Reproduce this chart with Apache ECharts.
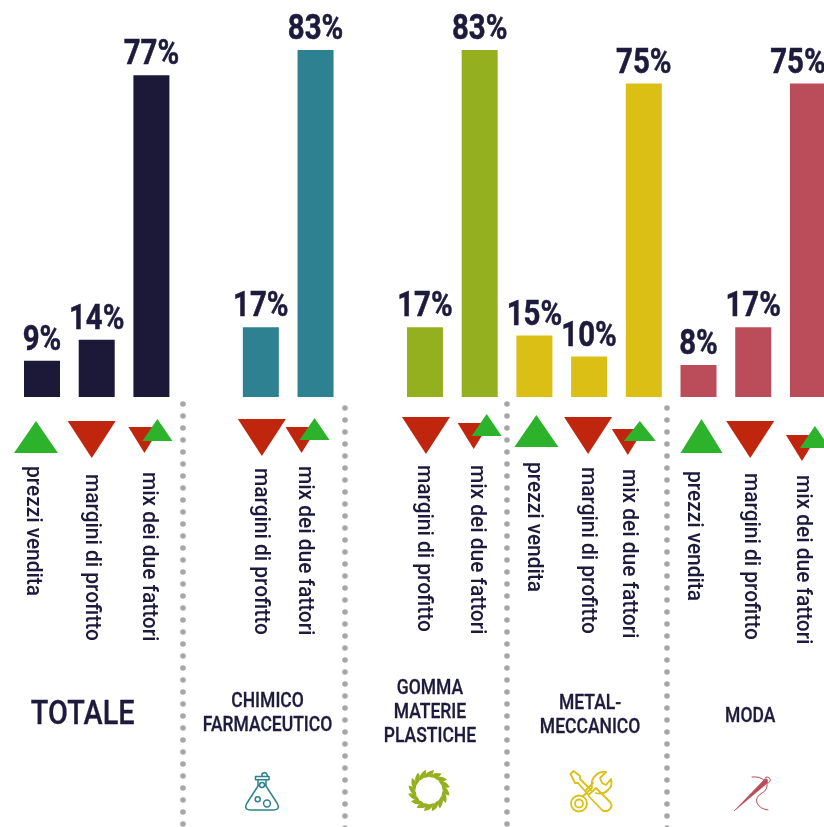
<!DOCTYPE html>
<html><head><meta charset="utf-8">
<style>html,body{margin:0;padding:0;background:#fff}#c{width:824px;height:827px}</style>
<script src="https://cdn.jsdelivr.net/npm/echarts@6/dist/echarts.min.js"></script>
</head><body><div id="c"></div>
<script>
// ---- data ----
const categories = [
  'prezzi vendita','margini di profitto','mix dei due fattori',
  'prezzi vendita','margini di profitto','mix dei due fattori',
  'prezzi vendita','margini di profitto','mix dei due fattori',
  'prezzi vendita','margini di profitto','mix dei due fattori',
  'prezzi vendita','margini di profitto','mix dei due fattori'];
const totale  = [9, 14, 77];
const chimico = [null, 17, 83];
const gomma   = [null, 17, 83];
const metal   = [15, 10, 75];
const moda    = [8, 17, 75];
const sectorNames = ['TOTALE','CHIMICO\nFARMACEUTICO','GOMMA\nMATERIE\nPLASTICHE','METAL-\nMECCANICO','MODA'];
const sectorColors = ['#1b1838','#2e8190','#95b01f','#dbbf15','#bb4c5a'];
const values = [].concat(totale, chimico, gomma, metal, moda);

// ---- layout of the annotations under the bars (px below the baseline / px from slot centre) ----
const INK = '#1e1a3c', RED = '#c0260d', GREEN = '#2cb22b';
const bigUp = [44,32], bigDown = [48,37], smallDown = [32,26], smallUp = [30,22];
const upMarks = [
  {i:0,y:40,dx:-6,s:bigUp},{i:9,y:34,dx:2,s:bigUp},{i:12,y:39,dx:3,s:[42,34]},
  {i:2,y:33,dx:6,s:smallUp},{i:5,y:32,dx:-1,s:smallUp},{i:8,y:28,dx:7,s:smallUp},
  {i:11,y:34,dx:-4,s:[32,20]},{i:14,y:40,dx:7,s:smallUp}];
const downMarks = [
  {i:1,y:42.5,dx:-5,s:bigDown},{i:4,y:40.5,dx:1,s:bigDown},{i:7,y:38.5,dx:1,s:bigDown},
  {i:10,y:38.5,dx:-1,s:bigDown},{i:13,y:42.5,dx:-3,s:bigDown},
  {i:2,y:43,dx:-7,s:smallDown},{i:5,y:43,dx:-14,s:smallDown},{i:8,y:39,dx:-6,s:smallDown},
  {i:11,y:45,dx:-16,s:smallDown},{i:14,y:51,dx:-6,s:smallDown}];
const axisLabels = [
  {i:0,y:69,dx:-9},{i:1,y:77,dx:-5},{i:2,y:75,dx:-3},
  {i:4,y:71,dx:0},{i:5,y:69,dx:-11},
  {i:7,y:68,dx:-1},{i:8,y:68,dx:-3},
  {i:9,y:65,dx:-1},{i:10,y:70,dx:-2},{i:11,y:72,dx:-15},
  {i:12,y:74,dx:-5},{i:13,y:76,dx:-3},{i:14,y:78,dx:-5}];
const titles = [
  {i:1,y:319,dx:-14,size:33,sx:.875},{i:5,y:317,dx:-48,size:20,sx:.875},{i:7,y:316,dx:5,size:20,sx:.875},
  {i:10,y:319,dx:1,size:20,sx:.875},{i:13,y:320,dx:-3,size:20,sx:.875}];
const dotLines = [[183,404],[345,408],[507,404],[667,408]];
const lastLabelShift = -10; // the last value label is pulled back inside the page

const sectorOf = i => Math.floor(i/3);
const FONT = 'Roboto, sans-serif';

function marks(list, rot, color, name){
  return {
    name, type:'scatter', xAxisIndex:1, yAxisIndex:1, silent:true, z:name==='up'?4:3,
    symbol:'triangle',
    data:list.map(m=>({value:[m.i,m.y],symbolSize:m.s,symbolOffset:[m.dx,0]})),
    symbolRotate:rot, itemStyle:{color,opacity:1}
  };
}

// decorative icons, drawn in page pixels
const stroke = (c,w)=>({stroke:c,lineWidth:w,fill:null,lineJoin:'round',lineCap:'round'});
const leafs = [];
for(let k=0;k<16;k++){
  leafs.push({type:'path',x:429,y:790.5,rotation:k/16*Math.PI*2,
    shape:{pathData:'M-5.5,-12.5 Q-3,-19.5 5,-20.5 Q4.5,-13.5 -5.5,-12.5 Z'},style:{fill:'#95b01f'}});
}
const icons = [
  {type:'path',shape:{pathData:
    'M258,780 L258,786 L247,803 Q243,810 251,810 L273,810 Q281,810 277,803 L266,786 L266,780 M255.5,776.5 L269,776.5 L269,779.8 L255.5,779.8 Z M262,776 A2.6,2.6 0 1 1 267,776 M259.5,785 a2.5,2.5 0 1 0 5,0 a2.5,2.5 0 1 0 -5,0 M255.2,799.3 a2.5,2.5 0 1 0 5,0 a2.5,2.5 0 1 0 -5,0 M263.6,803.5 a3.4,3.4 0 1 0 6.8,0 a3.4,3.4 0 1 0 -6.8,0'},
    style:stroke('#2e8190',1.5)},
  ...leafs,
  {type:'path',shape:{pathData:
    'M570.5,774 L573.5,771 L580,776 L580,779 L591,790 M588.5,795 L578,783 L575,783 L570.5,774 M586,790 L593,783 M588.5,795 L596,788 L610,802 Q613,806 610,809 Q606,813 602,810 L588.5,796 M571,803.5 a8,8 0 1 0 16,0 a8,8 0 1 0 -16,0 M575,803.5 a4,4 0 1 0 8,0 a4,4 0 1 0 -8,0 M583,796 L592,788 Q590,780 596,775 Q600,771 606,772 L600,778 L602,783 L606,785 L611,779 Q613,786 608,790 Q603,795 596,793'},
    style:stroke('#dbbf15',1.8)},
  {type:'path',shape:{pathData:'M734,811 L762,782 Q765,778 767,779 Q769,782 765,785 Z'},style:{fill:'#bb4c5a',stroke:'#bb4c5a',lineWidth:.6}},
  {type:'path',shape:{pathData:
    'M752,777 Q760,776 765,781 M765,778 a3,3 0 1 1 2,5 M767,783 Q768,790 762,793 Q755,797 757,803 Q760,809 768,810'},
    style:stroke('#bb4c5a',1)}
];
const graphic = dotLines.map(([x,y])=>({type:'line',silent:true,z:1,
    shape:{x1:x,y1:y,x2:x,y2:835},
    style:{stroke:'#a6a6a6',lineWidth:5.6,lineCap:'round',lineDash:[0,12]}}));

const option = {
  animation:false, backgroundColor:'#fff',
  grid:[
    {left:14.64,top:0,width:820.65,height:397,outerBoundsMode:'none'},
    {left:14.64,top:397,width:820.65,height:430,outerBoundsMode:'none'}
  ],
  xAxis:[
    {type:'category',gridIndex:0,data:categories.map((c,i)=>i),show:false},
    {type:'category',gridIndex:1,data:categories.map((c,i)=>i),show:false}
  ],
  yAxis:[
    {type:'value',gridIndex:0,min:0.38,max:94.9,show:false},
    {type:'value',gridIndex:1,min:0,max:430,inverse:true,show:false}
  ],
  graphic,
  series:[
    {type:'bar',xAxisIndex:0,yAxisIndex:0,barWidth:36,silent:true,
     data:values.map((v,i)=>({value:v,itemStyle:{color:sectorColors[sectorOf(i)]}}))},
    // value labels (condensed by scaling, since no condensed face is installed)
    {type:'custom',xAxisIndex:0,yAxisIndex:0,silent:true,z:6,clip:false,
     encode:{x:0,y:1},
     data:values.map((v,i)=>[i,v]).filter(d=>d[1]!=null),
     renderItem:(p,api)=>{
       const pt = api.coord([api.value(0),api.value(1)]);
       const dx = api.value(0)===categories.length-1 ? lastLabelShift : 0;
       return {type:'text',x:pt[0]+dx,y:pt[1]-2,scaleX:.84,
         style:{text:api.value(1)+'%',fill:INK,stroke:INK,lineWidth:.5,textAlign:'center',textVerticalAlign:'bottom',
           font:'bold 35px '+FONT}};
     }},
    marks(downMarks,180,RED,'down'),
    marks(upMarks,0,GREEN,'up'),
    // rotated metric names
    {type:'custom',xAxisIndex:1,yAxisIndex:1,silent:true,z:6,clip:false,
     encode:{x:0,y:1},
     data:axisLabels.map((m,k)=>[m.i,m.y,k]),
     renderItem:(p,api)=>{
       const m = axisLabels[api.value(2)];
       const pt = api.coord([api.value(0),api.value(1)]);
       return {type:'text',x:pt[0]+m.dx,y:pt[1],rotation:-Math.PI/2,scaleX:.95,
         style:{text:categories[m.i],fill:INK,textAlign:'left',textVerticalAlign:'middle',
           font:'500 22px '+FONT}};
     }},
    // sector titles
    {type:'custom',xAxisIndex:1,yAxisIndex:1,silent:true,z:6,clip:false,
     encode:{x:0,y:1},
     data:titles.map((t,k)=>[t.i,t.y,k]),
     renderItem:(p,api)=>{
       const k = api.value(2), t = titles[k];
       const pt = api.coord([api.value(0),api.value(1)]);
       return {type:'text',x:pt[0]+t.dx,y:pt[1],scaleX:t.sx,
         style:{text:sectorNames[k],fill:INK,stroke:INK,lineWidth:.3,textAlign:'center',textVerticalAlign:'middle',
           lineHeight:24,font:'500 '+t.size+'px '+FONT}};
     }},
    {type:'custom',xAxisIndex:1,yAxisIndex:1,silent:true,z:5,clip:false,data:[[0,0]],
     encode:{x:0,y:1},
     renderItem:()=>({type:'group',children:icons})}
  ]
};
echarts.init(document.getElementById('c'),null,{renderer:'canvas'}).setOption(option);
</script></body></html>
